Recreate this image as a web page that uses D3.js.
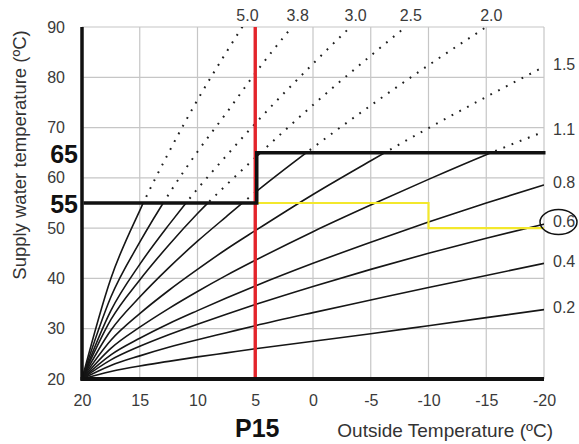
<!DOCTYPE html>
<html>
<head>
<meta charset="utf-8">
<script src="https://cdn.jsdelivr.net/npm/d3@7/dist/d3.min.js"></script>
<style>
  html, body { margin: 0; padding: 0; background: #fff; }
  svg { display: block; font-family: "Liberation Sans", Arial, Helvetica, sans-serif; }
</style>
</head>
<body>
<svg id="chart" width="579" height="444"></svg>
<script>
// Outside temperatures (°C) at which each heating curve is tabulated
const outsideTemps = [20, 17.5, 15, 12.5, 10, 7.5, 5, 0, -5, -10, -15, -20];

// Supply water temperature (°C) per heating-curve slope (null once a curve has left the chart)
const curve02 = [20, 21.5, 22.6, 23.5, 24.4, 25.2, 26.0, 27.5, 29.0, 30.6, 32.2, 33.8];
const curve04 = [20, 22.7, 24.6, 26.3, 27.8, 29.2, 30.6, 33.2, 35.7, 38.2, 40.6, 43.0];
const curve06 = [20, 23.8, 26.5, 28.8, 30.9, 32.9, 34.8, 38.4, 41.8, 45.0, 48.0, 50.8];
const curve08 = [20, 24.8, 28.1, 31.0, 33.6, 36.1, 38.5, 43.0, 47.2, 51.2, 55.0, 58.6];
const curve11 = [20, 26.1, 30.3, 34.0, 37.4, 40.6, 43.6, 49.3, 54.6, 59.7, 64.6, 69.2];
const curve15 = [20, 27.7, 33.0, 37.6, 41.8, 45.8, 49.5, 56.7, 63.4, 69.9, 76.1, 82.1];
const curve20 = [20, 29.7, 36.3, 42.1, 47.4, 52.3, 57.1, 66.0, 74.4, 82.4, 90.0, 97.4];
const curve25 = [20, 31.8, 39.7, 46.6, 52.9, 58.6, 64.0, 74.5, 84.3, 93.7, null, null];
const curve30 = [20, 33.6, 42.8, 50.6, 57.8, 64.4, 70.8, 82.7, 93.9, null, null, null];
const curve38 = [20, 36.3, 47.2, 56.7, 65.2, 72.9, 80.8, 95.0, null, null, null, null];
const curve50 = [20, 40.0, 53.5, 65.0, 75.5, 85.0, 94.0, null, null, null, null, null];

const slopeLabels = ["0.2", "0.4", "0.6", "0.8", "1.1", "1.5", "2.0", "2.5", "3.0", "3.8", "5.0"];
const curveValues = [curve02, curve04, curve06, curve08, curve11, curve15, curve20, curve25, curve30, curve38, curve50];
// slopes labelled on the right edge, the rest where they leave the top
const rightLabelled = ["0.2", "0.4", "0.6", "0.8", "1.1", "1.5"];
const topLabelled = ["2.0", "2.5", "3.0", "3.8", "5.0"];
const circledSlope = "0.6";

// axis ticks
const xTicks = [20, 15, 10, 5, 0, -5, -10, -15, -20];
const yTicks = [20, 30, 40, 50, 60, 70, 80, 90];
const limitTicks = [55, 65];

// design outside temperature and supply temperature limits
const designTemp = 5;
const designLabel = "P15";
const limitT = [20, 5, 5, -20];
const limitV = [55, 55, 65, 65];
// chosen operating setting
const settingT = [5, -10, -10, -20];
const settingV = [55, 55, 50, 50];

const xTitle = "Outside Temperature (ºC)";
const yTitle = "Supply water temperature (ºC)";

// ---------------------------------------------------------------
const svg = d3.select("#chart");
const W = 579, H = 444;
const margin = { top: 27, right: 35, bottom: 65, left: 82 };

const x = d3.scaleLinear().domain([20, -20]).range([margin.left, W - margin.right]);
const y = d3.scaleLinear().domain([20, 90]).range([H - margin.bottom, margin.top]);

const curves = slopeLabels.map((s, i) => ({
  slope: s,
  points: outsideTemps.map((t, j) => ({ t, v: curveValues[i][j] }))
}));

const defs = svg.append("defs");
const x0 = x(20), x1 = x(-20), yTop = y(90), yBot = y(20);

// area below the supply-temperature limit: curves are solid here
defs.append("clipPath").attr("id", "below")
  .append("polygon")
  .attr("points", [
    [x0 - 3, y(limitV[0])],
    ...limitT.map((t, i) => [x(t), y(limitV[i])]).slice(1),
    [x1, y(limitV[3])], [x1, yBot + 3], [x0 - 3, yBot + 3]
  ].map(p => p.join(",")).join(" "));

// area above the limit: curves are dotted here
defs.append("clipPath").attr("id", "above")
  .append("polygon")
  .attr("points", [
    [x0, yTop], [x1, yTop],
    ...limitT.map((t, i) => [x(t), y(limitV[i])]).reverse()
  ].map(p => p.join(",")).join(" "));

// grid
const grid = svg.append("g").attr("stroke", "#c6c6c6").attr("stroke-width", 1.2);
grid.selectAll("line.v").data(xTicks).join("line")
  .attr("x1", d => x(d)).attr("x2", d => x(d))
  .attr("y1", yTop).attr("y2", yBot);
grid.selectAll("line.h").data(yTicks).join("line")
  .attr("x1", x0).attr("x2", x1)
  .attr("y1", d => y(d)).attr("y2", d => y(d));

// heating curves
const line = d3.line()
  .defined(d => d.v != null)
  .x(d => x(d.t)).y(d => y(d.v))
  .curve(d3.curveMonotoneX);

svg.append("g").attr("clip-path", "url(#below)")
  .selectAll("path").data(curves).join("path")
  .attr("d", d => line(d.points))
  .attr("fill", "none").attr("stroke", "#161616").attr("stroke-width", 1.6);

svg.append("g").attr("clip-path", "url(#above)")
  .selectAll("path").data(curves).join("path")
  .attr("d", d => line(d.points))
  .attr("fill", "none").attr("stroke", "#202020").attr("stroke-width", 2)
  .attr("stroke-dasharray", "1.8 7");

// operating setting (yellow)
svg.append("path")
  .attr("d", d3.line().x(d => x(d[0])).y(d => y(d[1]))(settingT.map((t, i) => [t, settingV[i]])))
  .attr("fill", "none").attr("stroke", "#f3e82c").attr("stroke-width", 2.2);

// design outside temperature (red)
svg.append("line")
  .attr("x1", x(designTemp)).attr("x2", x(designTemp))
  .attr("y1", yTop).attr("y2", yBot)
  .attr("stroke", "#e3242b").attr("stroke-width", 3.4);

// supply limit (black)
svg.append("path")
  .attr("d", d3.line().x(d => x(d[0])).y(d => y(d[1]))(limitT.map((t, i) => [t, limitV[i]])))
  .attr("transform", "translate(1.5,0)")
  .attr("fill", "none").attr("stroke", "#111").attr("stroke-width", 3.5)
  .attr("stroke-linejoin", "miter");

// axis frame lines
svg.append("line").attr("x1", x0).attr("x2", x0).attr("y1", yTop).attr("y2", yBot + 1.5)
  .attr("stroke", "#111").attr("stroke-width", 3.5);
svg.append("line").attr("x1", x0 - 1.5).attr("x2", x1).attr("y1", yBot).attr("y2", yBot)
  .attr("stroke", "#111").attr("stroke-width", 4);

// tick labels
const xAxis = svg.append("g").attr("transform", `translate(0,${yBot})`)
  .call(d3.axisBottom(x).tickValues(xTicks).tickFormat(d => String(d)).tickSize(0).tickPadding(16));
xAxis.select(".domain").remove();
xAxis.selectAll("text").attr("font-size", 16).attr("fill", "#3a3a3a").attr("font-family", null);

const yAxis = svg.append("g").attr("transform", `translate(${x0},0)`)
  .call(d3.axisLeft(y).tickValues(yTicks).tickFormat(d => String(d)).tickSize(0).tickPadding(17));
yAxis.select(".domain").remove();
yAxis.selectAll("text").attr("font-size", 16).attr("fill", "#3a3a3a").attr("font-family", null);

const limAxis = svg.append("g").attr("transform", `translate(${x0},0)`)
  .call(d3.axisLeft(y).tickValues(limitTicks).tickFormat(d => String(d)).tickSize(0).tickPadding(4));
limAxis.select(".domain").remove();
limAxis.selectAll("text").attr("font-size", 25).attr("font-weight", "bold")
  .attr("fill", "#111").attr("dy", "0.38em").attr("font-family", null);

// curve labels at the right edge
const lastOf = c => c.points[c.points.length - 1].v;
const rightCurves = curves.filter(c => rightLabelled.includes(c.slope));
svg.append("g").selectAll("text").data(rightCurves).join("text")
  .attr("x", x1 + 9).attr("y", d => y(lastOf(d)) - 1)
  .attr("dominant-baseline", "middle")
  .attr("font-size", 16).attr("fill", "#3a3a3a")
  .text(d => d.slope);

const circled = curves.find(c => c.slope === circledSlope);
svg.append("ellipse")
  .attr("cx", x1 + 14.5).attr("cy", y(lastOf(circled)) - 2)
  .attr("rx", 18.5).attr("ry", 12.5)
  .attr("fill", "none").attr("stroke", "#111").attr("stroke-width", 1.5);

// curve labels along the top, where each curve reaches 90 °C
function topCrossing(c) {
  const p = c.points.filter(d => d.v != null);
  for (let i = 1; i < p.length; i++) {
    if (p[i].v >= 90) {
      const f = (90 - p[i - 1].v) / (p[i].v - p[i - 1].v);
      return p[i - 1].t + f * (p[i].t - p[i - 1].t);
    }
  }
  return p[p.length - 1].t;
}
const topCurves = curves.filter(c => topLabelled.includes(c.slope));
svg.append("g").selectAll("text").data(topCurves).join("text")
  .attr("x", d => x(topCrossing(d)) + 5).attr("y", yTop - 6)
  .attr("text-anchor", "middle")
  .attr("font-size", 16).attr("fill", "#3a3a3a")
  .text(d => d.slope);

// design temperature label
svg.append("text")
  .attr("x", x(designTemp) + 2).attr("y", 437)
  .attr("text-anchor", "middle")
  .attr("font-size", 25).attr("font-weight", "bold").attr("fill", "#111")
  .text(designLabel);

// axis titles
svg.append("text")
  .attr("x", x1 + 9).attr("y", 437)
  .attr("text-anchor", "end")
  .attr("font-size", 19).attr("fill", "#333")
  .text(xTitle);

svg.append("text")
  .attr("transform", `translate(26,${(yTop + 283) / 2}) rotate(-90)`)
  .attr("text-anchor", "middle")
  .attr("font-size", 18.5).attr("fill", "#333")
  .text(yTitle);
</script>
</body>
</html>
